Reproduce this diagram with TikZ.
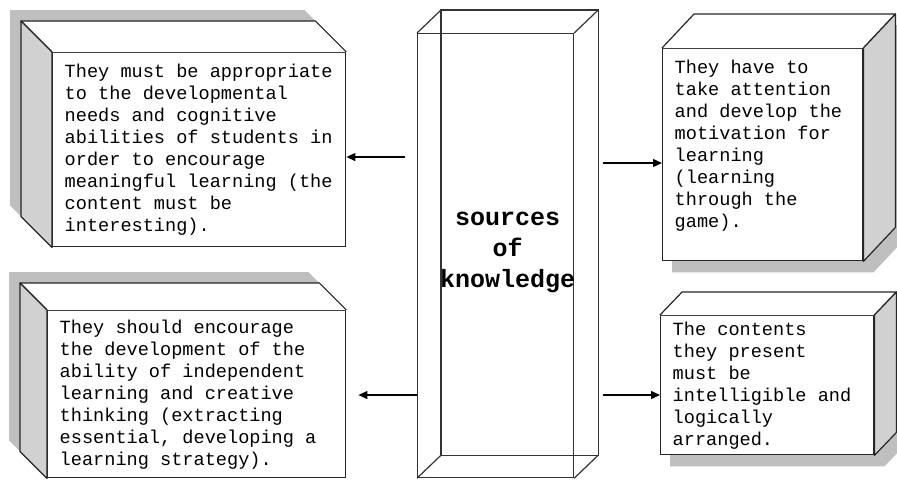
\documentclass[tikz,border=0pt]{standalone}
\usepackage{fontspec}
\setmonofont{Liberation Mono}
\usetikzlibrary{positioning,arrows.meta,calc,backgrounds}
\newcommand{\boxfont}{\ttfamily\fontsize{9.3}{11}\selectfont
  \fontdimen2\font=0.6em\fontdimen3\font=0pt\fontdimen4\font=0pt}

\begin{document}
\begin{tikzpicture}[
      x=0.5pt, y=-0.5pt,
      every node/.style={font=\boxfont},
      face/.style={draw=black!85, line width=0.7pt, fill=white,
                   anchor=north west, align=flush left,
                   inner xsep=6pt, inner ysep=0pt,
                   execute at begin node={\spaceskip=0pt\xspaceskip=0pt}},
      lid/.style={draw=black!85, line width=0.6pt, fill=white,
                  line join=round},
      side/.style={draw=black!85, line width=0.6pt, fill=black!18,
                   line join=round},
      shadowfill/.style={fill=black!25},
      wire/.style={draw=black!80, line width=0.6pt},
      arrow/.style={-{Triangle[length=4.5pt, width=4pt]}, line width=0.6pt,
                    draw=black},
  ]
    \useasboundingbox (0,0) rectangle (897,479);

    %% --- Front faces of the blocks ---
    \node[face, text width=134.5pt, minimum height=97pt] (n1) at (52,52) {
      They must be appropriate\\
      to the developmental\\
      needs and cognitive\\
      abilities of students in\\
      order to encourage\\
      meaningful learning (the\\
      content must be\\
      interesting).};
    \node[face, text width=88pt, minimum height=106pt] (n2) at (662,48) {
      They have to\\
      take attention\\
      and develop the\\
      motivation for\\
      learning\\
      (learning\\
      through the\\
      game).\\~};
    \node[face, text width=137pt, minimum height=83.5pt] (n3) at (47,310) {
      They should encourage\\
      the development of the\\
      ability of independent\\
      learning and creative\\
      thinking (extracting\\
      essential, developing a\\
      learning strategy).};
    \node[face, text width=94.5pt, minimum height=69.5pt] (n4) at (660,315) {
      The contents\\
      they present\\
      must be\\
      intelligible and\\
      logically\\
      arranged.};

    %% --- Depth of the left blocks ---
    \foreach \b/\d in {n1/31, n3/27} {
      \draw[lid] (\b.north west) -- ([shift={(-\d,-\d)}]\b.north west)
        -- ([shift={(-\d,-\d)}]\b.north east) -- (\b.north east);
      \draw[side] (\b.north west) -- ([shift={(-\d,-\d)}]\b.north west)
        -- ([shift={(-\d,-\d)}]\b.south west) -- (\b.south west) -- cycle;
      \begin{scope}[on background layer]
        \fill[shadowfill] ([shift={(-\d-11,-\d-11)}]\b.north west)
          -- ([shift={(-\d-11,-\d-11)}]\b.north east)
          -- ([shift={(-11,-11)}]\b.north east)
          -- ([shift={(-11,-11)}]\b.south east)
          -- ([shift={(-11,-11)}]\b.south west)
          -- ([shift={(-\d-11,-\d-11)}]\b.south west) -- cycle;
      \end{scope}
    }

    %% --- Depth of the right blocks ---
    \foreach \b/\dx/\dy in {n2/32/34, n4/22/23} {
      \draw[lid] (\b.north west) -- ([shift={(\dx,-\dy)}]\b.north west)
        -- ([shift={(\dx,-\dy)}]\b.north east) -- (\b.north east);
      \draw[side] (\b.north east) -- ([shift={(\dx,-\dy)}]\b.north east)
        -- ([shift={(\dx,-\dy)}]\b.south east) -- (\b.south east) -- cycle;
      \begin{scope}[on background layer]
        \fill[shadowfill] ([shift={(10,11)}]\b.north west)
          -- ([shift={(\dx+10,-\dy+11)}]\b.north west)
          -- ([shift={(\dx+10,-\dy+11)}]\b.north east)
          -- ([shift={(\dx+10,-\dy+11)}]\b.south east)
          -- ([shift={(10,11)}]\b.south east)
          -- ([shift={(10,11)}]\b.south west) -- cycle;
      \end{scope}
    }

    %% --- Central column (wireframe) ---
    \node[wire, anchor=north west, minimum width=78pt, minimum height=222pt]
      (col) at (417,33) {};
    \draw[wire] ([shift={(24,-23)}]col.north west)
      rectangle ([shift={(24,-23)}]col.south east);
    \foreach \a in {north west, north east, south west, south east}
      \draw[wire] (col.\a) -- ([shift={(24,-23)}]col.\a);
    \node[font=\ttfamily\bfseries\fontsize{12.5}{15.5}\selectfont,
          align=center] (src) at ([shift={(12,-3)}]col.center)
      {sources\\of\\knowledge};

    %% --- Arrows ---
    \coordinate (p1) at (405,157);
    \coordinate (p2) at (603,163);
    \coordinate (p3) at (417,395);
    \coordinate (p4) at (603,395);
    \draw[arrow] (p1) -- (p1 -| n1.east);
    \draw[arrow] (p2) -- (p2 -| n2.west);
    \draw[arrow] (p3) -- ($(p3 -| n3.east)+(12,0)$);
    \draw[arrow] (p4) -- (p4 -| n4.west);
  \end{tikzpicture}
\end{document}
